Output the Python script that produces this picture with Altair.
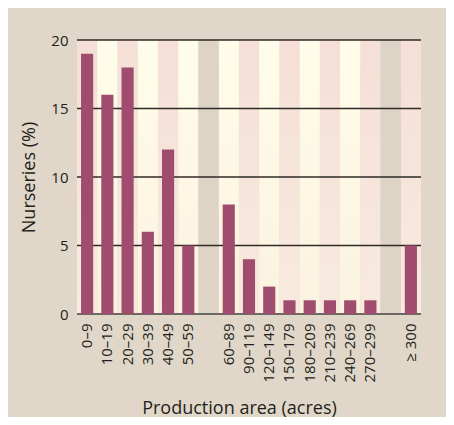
import altair as alt
import pandas as pd

categories = ["0–9", "10–19", "20–29", "30–39", "40–49", "50–59",
              "60–89", "90–119", "120–149", "150–179", "180–209",
              "210–239", "240–269", "270–299", "≥ 300"]
values = [19, 16, 18, 6, 12, 5, 8, 4, 2, 1, 1, 1, 1, 1, 5]
slots = ["0–9", "10–19", "20–29", "30–39", "40–49", "50–59", "gap1",
         "60–89", "90–119", "120–149", "150–179", "180–209",
         "210–239", "240–269", "270–299", "gap2", "≥ 300"]
grid_values = [5, 10, 15, 20]
y_max = 20

BG = "#e0d7c8"
BAR = "#a04c6e"
TEXT = "#231f20"
FONT = "Open Sans"

bars_df = pd.DataFrame({"slot": categories, "v": values})
stripe_df = pd.DataFrame({
    "slot": slots,
    "kind": ["gap" if s.startswith("gap") else ("pink" if i % 2 == 0 else "cream")
             for i, s in enumerate(slots)],
    "v": [y_max] * len(slots),
    "bot": [0] * len(slots),
})
grid_df = pd.DataFrame({"v": grid_values})
zero_df = pd.DataFrame({"v": [0]})

xscale = alt.Scale(domain=slots, paddingInner=0, paddingOuter=0)
yscale = alt.Scale(domain=[0, y_max], nice=False)

xaxis = alt.Axis(
    title="Production area (acres)",
    labelAngle=-90, labelPadding=9, ticks=False, domain=False, grid=False,
    labelFontSize=15, labelFont=FONT, labelColor=TEXT,
    labelExpr="indexof(datum.label, 'gap') == 0 ? '' : datum.label",
    titleFontSize=18, titleFont=FONT, titleColor=TEXT, titleFontWeight="normal",
    titleX=162, titleY=99, titleBaseline="alphabetic",
)
yaxis = alt.Axis(
    title="Nurseries (%)", values=[0, 5, 10, 15, 20],
    grid=False, ticks=False, domain=False, labelPadding=9,
    labelFontSize=15, labelFont=FONT, labelColor=TEXT,
    titleFontSize=18, titleFont=FONT, titleColor=TEXT, titleFontWeight="normal",
    titleX=-43, titleBaseline="alphabetic",
)

X = alt.X("slot:N", scale=xscale, sort=slots, axis=xaxis,
          title="Production area (acres)")
Y = alt.Y("v:Q", scale=yscale, axis=yaxis, title="Nurseries (%)")


def grad(top, bottom):
    return alt.Gradient(
        gradient="linear",
        stops=[alt.GradientStop(color=top, offset=0),
               alt.GradientStop(color=bottom, offset=1)],
        x1=0, x2=0, y1=0, y2=1,
    )


def stripes(kind, fill):
    return alt.Chart(stripe_df).transform_filter(
        alt.datum.kind == kind
    ).mark_rect(fill=fill).encode(x=X, y=Y, y2="bot:Q")


pink = stripes("pink", grad("#f5dfd6", "#f8eadf"))
cream = stripes("cream", grad("#fffde9", "#fbf2e0"))
gap = stripes("gap", "#ddd4c5")

grid = alt.Chart(grid_df).mark_rule(color="#2e2a26", strokeWidth=1.5).encode(y=Y)
zero = alt.Chart(zero_df).mark_rule(color="#6e6862", strokeWidth=2).encode(y=Y)

bars = alt.Chart(bars_df).mark_bar(
    color=BAR, width=alt.RelativeBandSize(0.6)
).encode(x=X, y=Y)

chart = alt.layer(pink, cream, gap, grid, zero, bars).properties(
    width=344, height=274,
    padding={"left": 69, "top": 32, "right": 25, "bottom": 103},
    autosize=alt.AutoSizeParams(type="none"),
    background=BG,
).configure_view(stroke=None)

chart.save("out.html", embed_options={"renderer": "svg", "actions": False})
